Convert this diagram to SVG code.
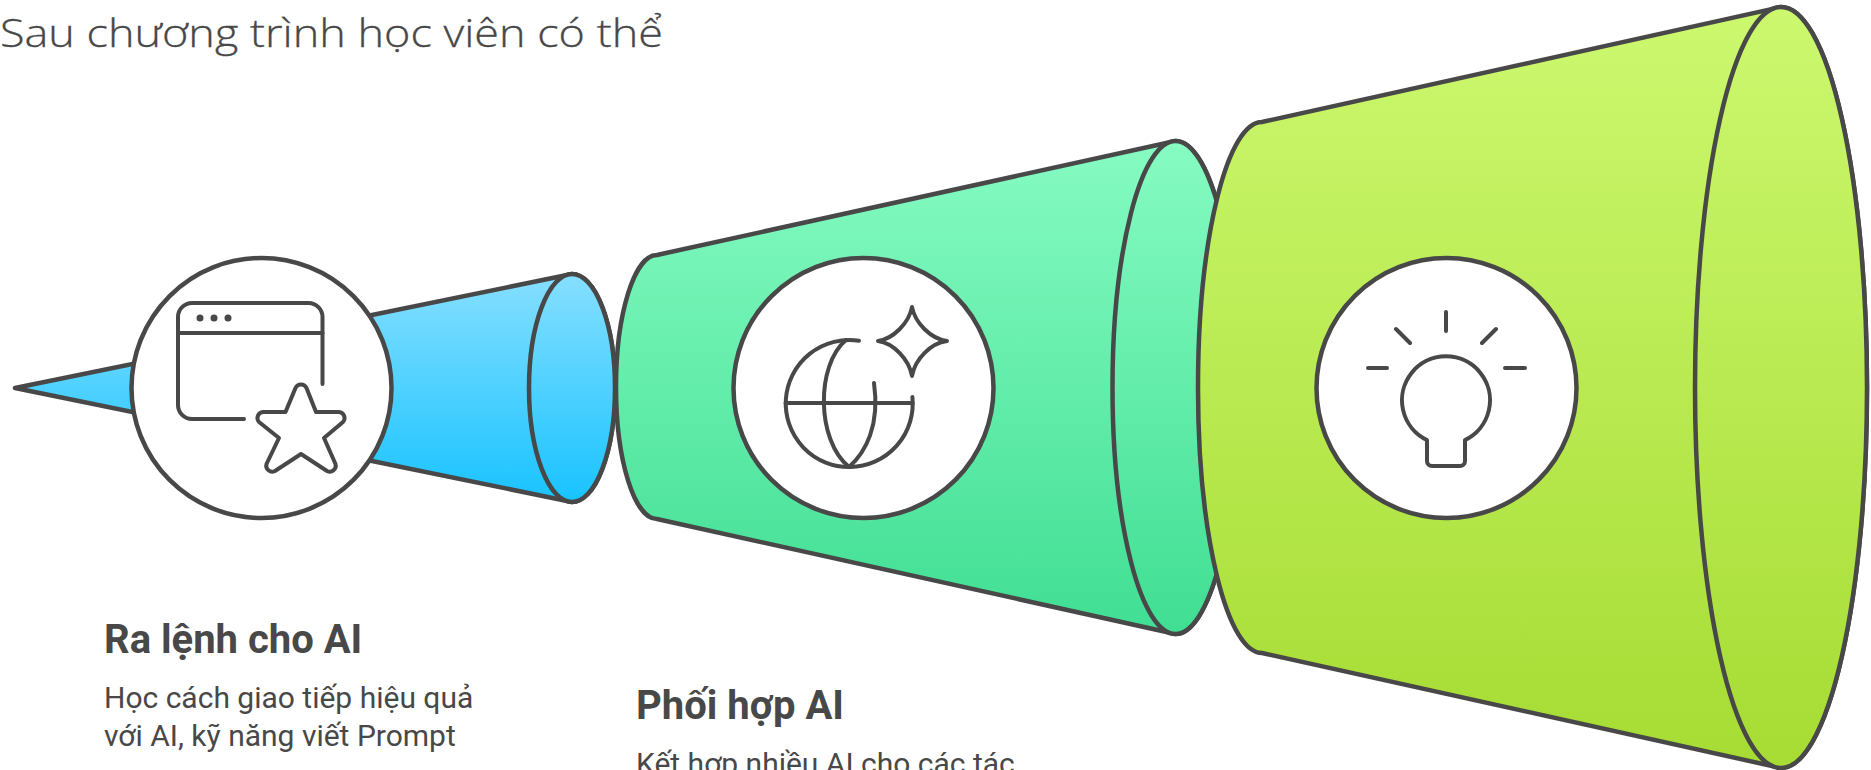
<svg xmlns="http://www.w3.org/2000/svg" width="1871" height="770" viewBox="0 0 1871 770">
<style>
.s{stroke:#484848;stroke-width:4.500;stroke-linejoin:round;stroke-linecap:round}
.c{fill:#fff}
.i{fill:none;stroke:#484848;stroke-width:4;stroke-linecap:round;stroke-linejoin:round}
.h{font-family:Roboto,"Liberation Sans",sans-serif;font-weight:700;font-size:40px;fill:#484848}
.b{font-family:Roboto,"Liberation Sans",sans-serif;font-weight:400;font-size:30px;fill:#484848}
.t{font-family:"Open Sans","Liberation Sans",sans-serif;font-weight:300;font-size:39px;fill:#484848;stroke:#484848;stroke-width:.3px}
</style>
<defs>
<linearGradient id="gb" x1="0" y1="0" x2="0" y2="1"><stop offset="0" stop-color="#86DFFF"/><stop offset="1" stop-color="#18C3FF"/></linearGradient>
<linearGradient id="gg" x1="0" y1="0" x2="0" y2="1"><stop offset="0" stop-color="#86FBC2"/><stop offset="1" stop-color="#40DE93"/></linearGradient>
<linearGradient id="gl" x1="0" y1="0" x2="0" y2="1"><stop offset="0" stop-color="#CCF86F"/><stop offset="1" stop-color="#A6DC33"/></linearGradient>
</defs>
<text id="title" class="t" x="0" y="47" textLength="663" lengthAdjust="spacingAndGlyphs">Sau chương trình học viên có thể</text>
<g id="connectors"></g>
<g id="node-blue">
<path class="s" fill="url(#gb)" d="M15,388 L572,274 A43,114 0 0 1 572,502 Z"/>
<ellipse class="s" fill="url(#gb)" cx="572" cy="388" rx="43" ry="114"/>
<circle class="s c" cx="261.500" cy="388" r="130"/>
<path class="i" d="M322.500,384 V317 A14,14 0 0 0 308.500,303 H192 A14,14 0 0 0 178,317 V405 A14,14 0 0 0 192,419 H244"/>
<path class="i" d="M178,333 H322.500"/>
<circle cx="200" cy="318" r="3.500" fill="#484848"/><circle cx="214" cy="318" r="3.500" fill="#484848"/><circle cx="228" cy="318" r="3.500" fill="#484848"/>
<path class="i" d="M295.500,388 A6,6 0 0 1 306.500,388 L316,412 H339 A6,6 0 0 1 343,422 L324,438 L335.500,464 A6,6 0 0 1 327,471 L301,454 L275,471 A6,6 0 0 1 266.500,464 L279,438 L259,422 A6,6 0 0 1 263,412 H285.500 Z"/>
</g>
<g id="node-green">
<path class="s" fill="url(#gg)" d="M657,255 L1175.500,141 A63,246.500 0 0 1 1175.500,634 L657,519 A41,132 0 0 1 657,255 Z"/>
<ellipse class="s" fill="url(#gg)" cx="1175.500" cy="387.500" rx="63" ry="246.500"/>
<circle class="s c" cx="863.500" cy="388" r="130"/>
<path class="i" d="M859,340.800 A63.500,63.500 0 1 0 912.400,397"/>
<path class="i" d="M785.500,403 H912.500"/>
<path class="i" d="M846,340 C816,365 816,440 849,467 C866,452 880,425 874,383"/>
<path class="i" d="M912,307 C915,323 931,339 947,341 C931,343 915,359 912,376 C909,359 893,343 878,341 C893,339 909,323 912,307 Z"/>
</g>
<g id="node-lime">
<path class="s" fill="url(#gl)" d="M1262,122 L1781,7 A86,380.500 0 0 1 1781,768 L1262,653 A64,265.500 0 0 1 1262,122 Z"/>
<ellipse class="s" fill="url(#gl)" cx="1781" cy="387.500" rx="86" ry="380.500"/>
<circle class="s c" cx="1446.500" cy="388" r="130"/>
<path class="i" d="M1446,312 V331 M1396,329 L1410,343 M1496,329 L1482,343 M1368,368 H1387 M1505,368 H1525"/>
<path class="i" d="M1427,440 A44,44 0 1 1 1465,440 V461 A5,5 0 0 1 1460,466 H1432 A5,5 0 0 1 1427,461 Z"/>
</g>
<g id="label-1">
<text class="h" x="104" y="653">Ra lệnh cho AI</text>
<text class="b" x="104" y="708">Học cách giao tiếp hiệu quả</text>
<text class="b" x="104" y="746">với AI, kỹ năng viết Prompt</text>
</g>
<g id="label-2">
<text class="h" x="636" y="719">Phối hợp AI</text>
<text class="b" x="636" y="774">Kết hợp nhiều AI cho các tác</text>
</g>
</svg>
